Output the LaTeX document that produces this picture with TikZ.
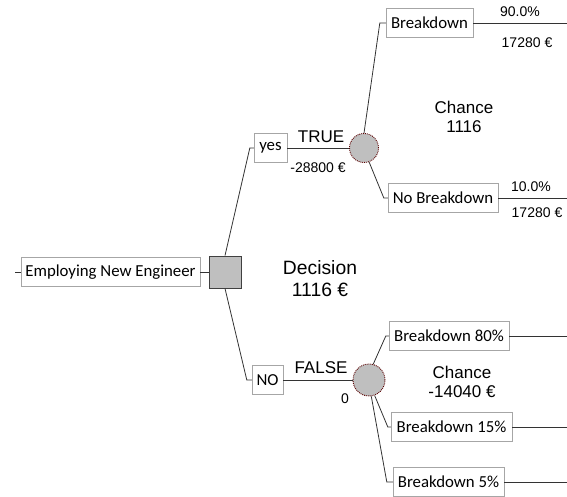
\documentclass[tikz,border=0pt]{standalone}
\usepackage{fontspec}
\setmainfont{Liberation Sans}
\newfontfamily\boxfont{Carlito}
\usepackage{tikz}

\begin{document}
\begin{tikzpicture}[x=1pt, y=-1pt,
    optbox/.style={draw=gray!70, fill=white, font=\boxfont\fontsize{16.8}{17}\selectfont,
        inner xsep=3pt, inner ysep=0pt, minimum height=29pt},
    decnode/.style={draw=black!75, fill=black!25, minimum size=32pt, inner sep=0pt, line width=0.9pt},
    chnode/.style={draw=red!35!black, densely dotted, fill=black!25, circle, inner sep=0pt, line width=0.9pt},
    branch/.style={draw=black!80, line width=0.8pt},
    lbl/.style={font=\fontsize{17}{19}\selectfont, align=center, inner sep=0pt},
    val/.style={font=\fontsize{14}{14}\selectfont, inner sep=0pt}]
\useasboundingbox (0,0) rectangle (567,497);
% root and decision
\node[optbox, minimum width=179pt] (root) at (110.5,272) {Employing New Engineer};
\coordinate (start) at (15,272);
\node[decnode] (dec) at (225,272) {};
\node[lbl, font=\fontsize{19.3}{22}\selectfont] (declbl) at (320,279) {Decision\\1116 \texteuro};
\draw[branch] (start) -- (root);
\draw[branch] (root) -- (dec);
% yes branch
\node[optbox, minimum width=33pt] (yes) at (270.5,148) {yes};
\node[chnode, minimum size=29pt] (c1) at (364,148) {};
\draw[branch] (dec.north) -- ([xshift=-4]yes.west) -- (yes.west);
\draw[branch] (yes) -- (c1);
\node[lbl] (true) at (321,137) {TRUE};
\node[val] (cost1) at (318,168) {-28800 \texteuro};
\node[lbl] (ch1) at (464,117) {Chance\\1116};
\node[optbox, minimum width=87pt] (bk) at (429.5,23) {Breakdown};
\node[optbox, minimum width=110pt] (nbk) at (443,198) {No Breakdown};
\draw[branch] (c1.north) -- ([xshift=-6]bk.west) -- (bk.west);
\draw[branch] (c1.-70) -- ([xshift=-4]nbk.west) -- (nbk.west);
\coordinate (e1) at (567,23);
\coordinate (e2) at (567,198);
\draw[branch] (bk) -- (e1);
\draw[branch] (nbk) -- (e2);
\node[val] (p1) at (520,12) {90.0\%};
\node[val] (v1) at (527,43) {17280 \texteuro};
\node[val] (p2) at (531,187) {10.0\%};
\node[val] (v2) at (537,213) {17280 \texteuro};
% no branch
\node[optbox, minimum width=31pt] (no) at (267.5,380) {NO};
\node[chnode, minimum size=32pt] (c2) at (369,380) {};
\draw[branch] (dec.south) -- ([xshift=-5]no.west) -- (no.west);
\draw[branch] (no) -- (c2);
\node[lbl] (false) at (321,368) {FALSE};
\node[val] (cost2) at (345,399) {0};
\node[lbl] (ch2) at (462,382) {Chance\\-14040 \texteuro};
\node[optbox, minimum width=120pt] (b80) at (449,336) {Breakdown 80\%};
\node[optbox, minimum width=121pt] (b15) at (451.5,427) {Breakdown 15\%};
\node[optbox, minimum width=111pt] (b5) at (448.5,482) {Breakdown 5\%};
\draw[branch] (c2.75) -- ([xshift=-3]b80.west) -- (b80.west);
\draw[branch] (c2.-70) -- ([xshift=-3]b15.west) -- (b15.west);
\draw[branch] (c2.-82) -- ([xshift=-6]b5.west) -- (b5.west);
\coordinate (e3) at (567,336);
\coordinate (e4) at (567,427);
\coordinate (e5) at (567,482);
\draw[branch] (b80) -- (e3);
\draw[branch] (b15) -- (e4);
\draw[branch] (b5) -- (e5);
\end{tikzpicture}
\end{document}
